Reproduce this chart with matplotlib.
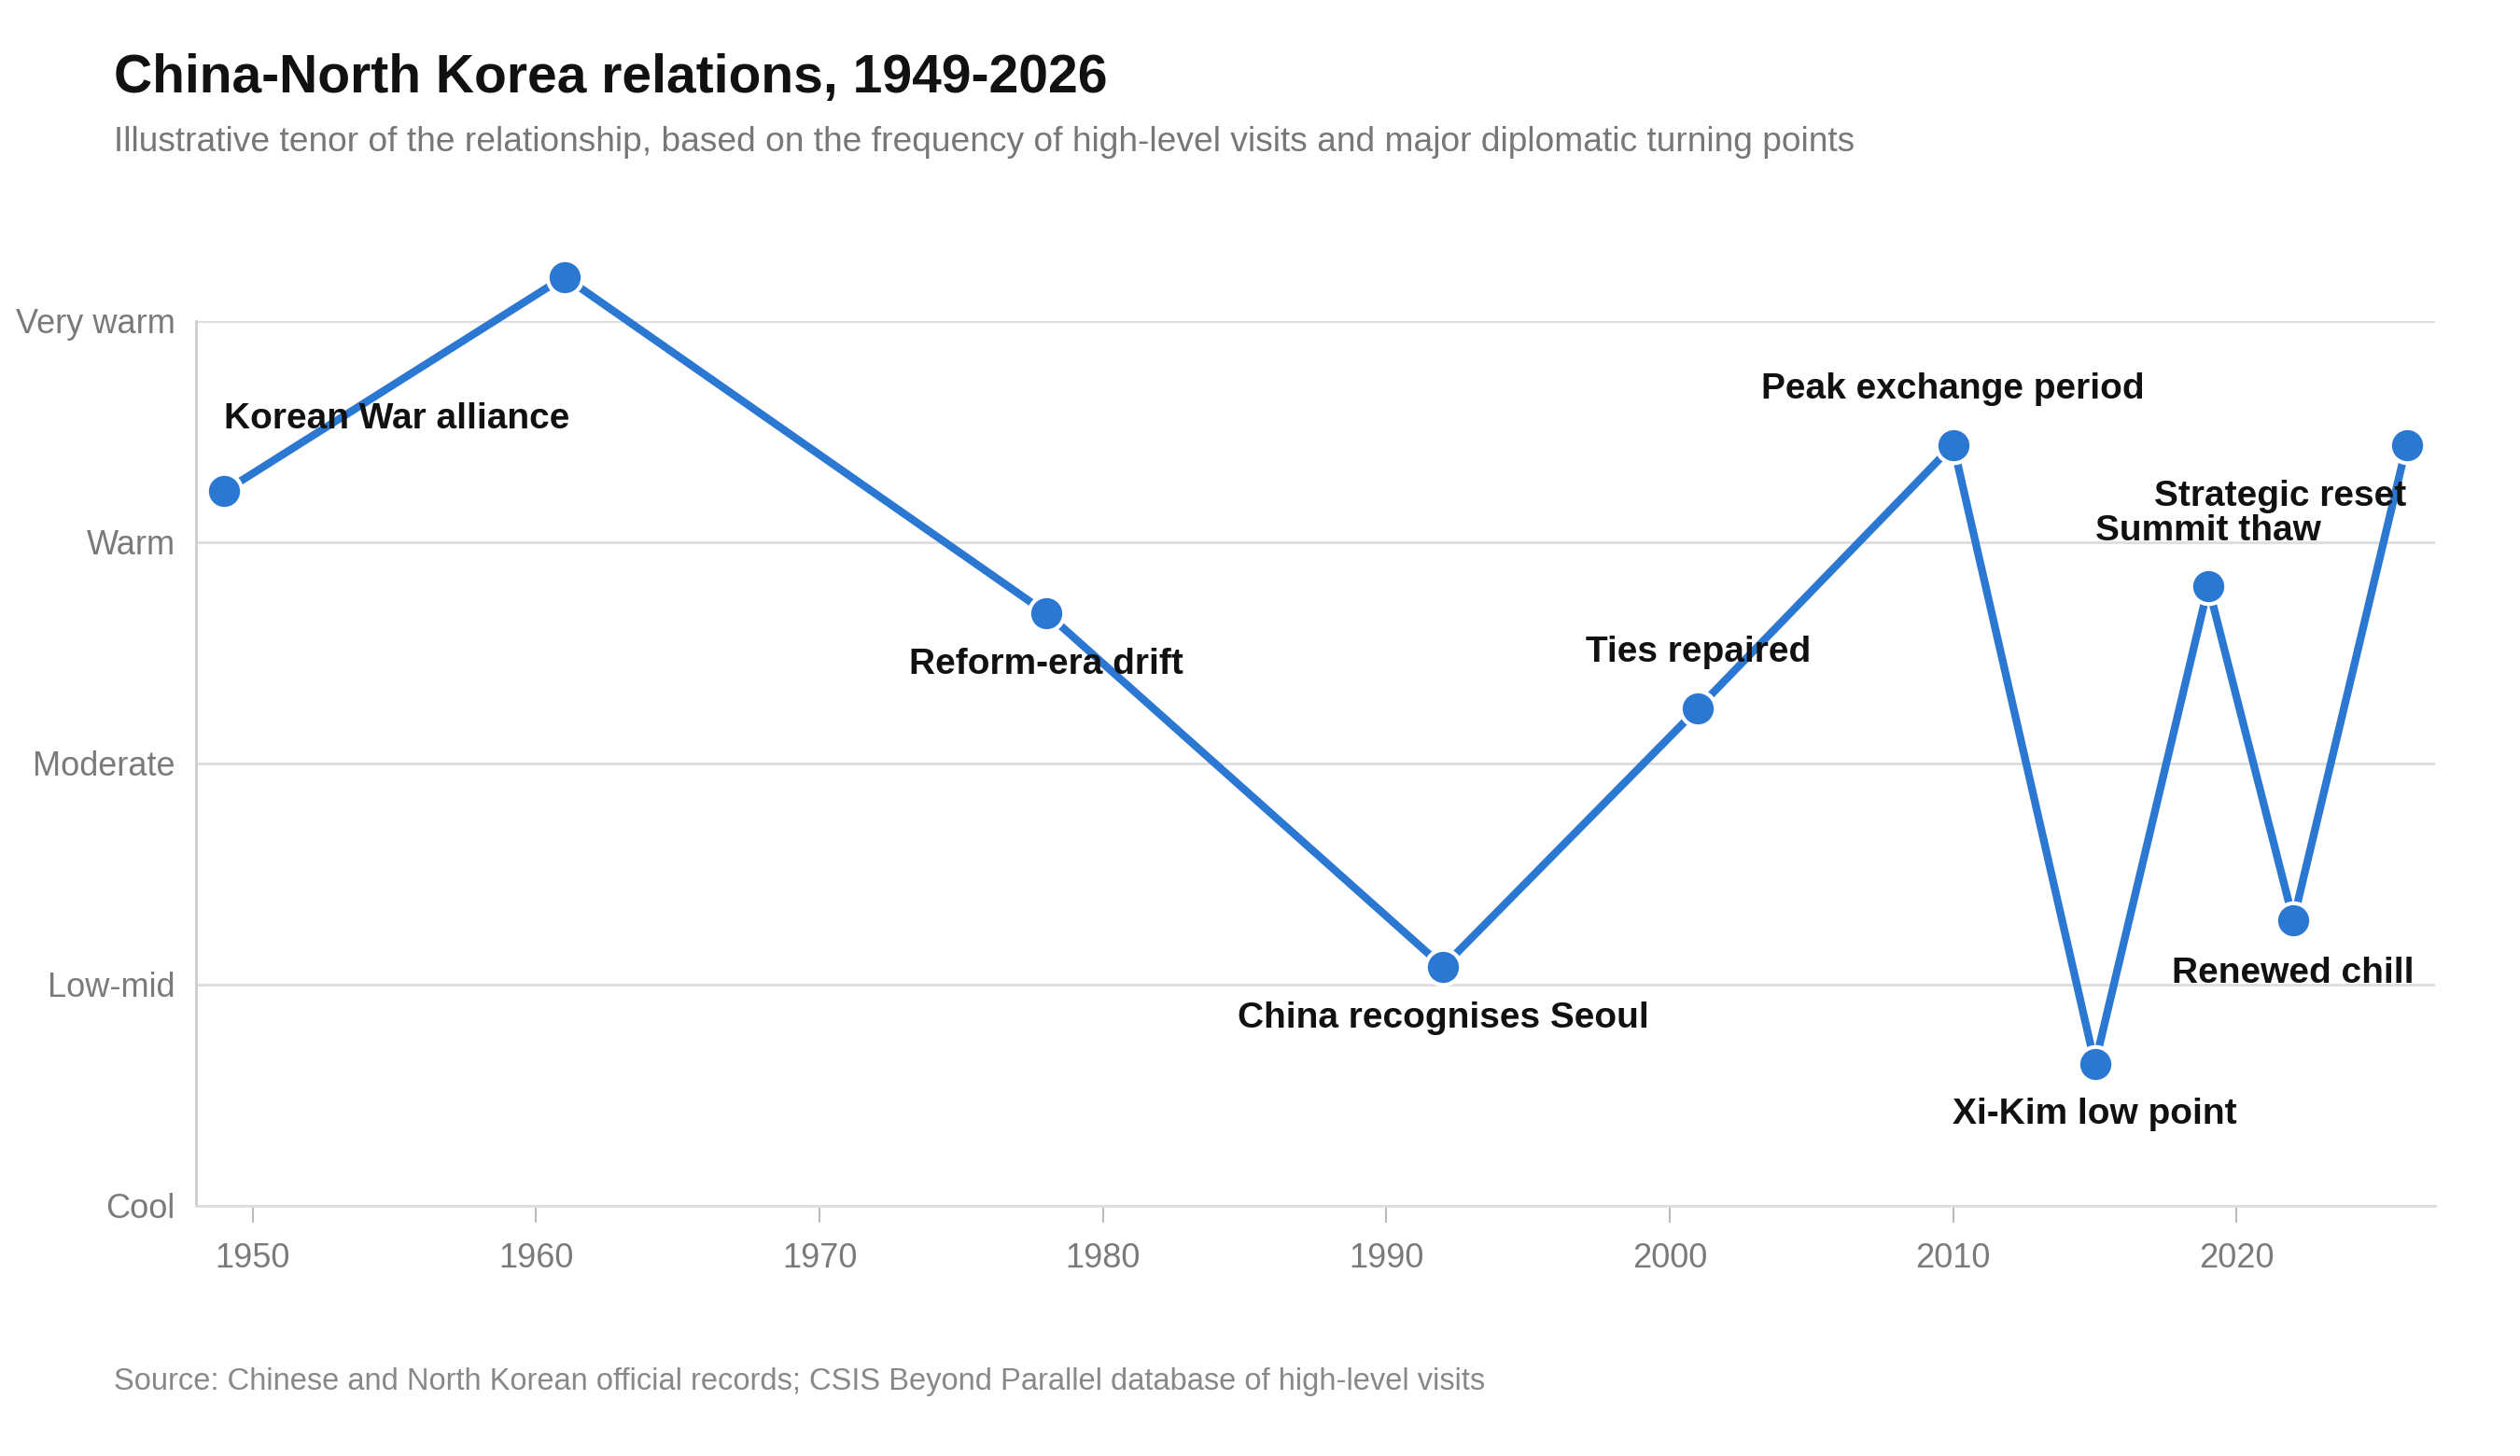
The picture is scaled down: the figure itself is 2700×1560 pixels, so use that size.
import matplotlib.pyplot as plt

years = [1949, 1961, 1978, 1992, 2001, 2010, 2015, 2019, 2022, 2026]
tenor = [3.23, 4.2, 2.68, 1.08, 2.25, 3.44, 0.64, 2.8, 1.29, 3.44]
events = ['Korean War alliance', '1961 friendship treaty', 'Reform-era drift',
          'China recognises Seoul', 'Ties repaired', 'Peak exchange period',
          'Xi-Kim low point', 'Summit thaw', 'Renewed chill', 'Strategic reset']
level_names = ['Cool', 'Low-mid', 'Moderate', 'Warm', 'Very warm']
year_ticks = [1950, 1960, 1970, 1980, 1990, 2000, 2010, 2020]

# label offsets (points) and alignment
offsets = [(0, 56), (0, 45), (0, -40), (0, -40), (0, 43), (0, 43),
           (0, -39), (0, 43), (0, -41), (0, -40)]
aligns = ['left', 'center', 'center', 'center', 'center', 'center',
          'center', 'center', 'center', 'right']

plt.rcParams['font.family'] = ['Liberation Sans', 'DejaVu Sans']

blue = '#2b78d3'
grey = '#7a7a7a'

fig = plt.figure(figsize=(27, 15.6), dpi=100)
ax = fig.add_axes([0.0778, 0.172, 0.8885, 0.6075])

ax.plot(years, tenor, color=blue, lw=6, marker='o', markersize=27,
        markerfacecolor=blue, markeredgecolor='white', markeredgewidth=3,
        clip_on=False, zorder=3)

for x, y, t, off, ha in zip(years, tenor, events, offsets, aligns):
    ax.annotate(t, (x, y), xytext=off, textcoords='offset points',
                ha=ha, va='center', fontsize=28, fontweight='bold',
                color='#111111', zorder=4)

ax.set_xlim(1948, 2027)
ax.set_ylim(0, 4)
ax.set_yticks(range(len(level_names)))
ax.set_yticklabels(level_names)
ax.set_xticks(year_ticks)
ax.grid(axis='y', color='#dddddd', lw=2)
ax.set_axisbelow(True)

for s in ['top', 'right']:
    ax.spines[s].set_visible(False)
ax.spines['left'].set_color('#cccccc')
ax.spines['bottom'].set_color('#dddddd')
ax.spines['left'].set_linewidth(2)
ax.spines['bottom'].set_linewidth(2)

ax.tick_params(axis='y', length=0, pad=16, labelsize=26, labelcolor=grey)
ax.tick_params(axis='x', length=13, width=1.5, color='#bbbbbb', pad=15,
               labelsize=26, labelcolor=grey)

fig.text(0.045, 1 - 84.5 / 1560, 'China-North Korea relations, 1949-2026',
         fontsize=41, fontweight='bold', color='#111111', va='center')
fig.text(0.045, 1 - 152 / 1560,
         'Illustrative tenor of the relationship, based on the frequency of '
         'high-level visits and major diplomatic turning points',
         fontsize=26.7, color='#777777', va='center')
fig.text(0.045, 1 - 1480 / 1560,
         'Source: Chinese and North Korean official records; CSIS Beyond '
         'Parallel database of high-level visits',
         fontsize=23.5, color='#888888', va='center')

fig.savefig('out.png', dpi=100, facecolor='white')
